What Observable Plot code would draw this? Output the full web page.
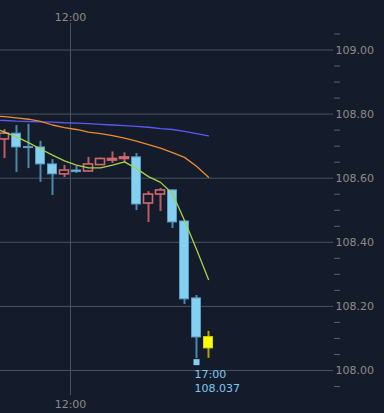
<!DOCTYPE html>
<html><head><meta charset="utf-8">
<script src="https://cdn.jsdelivr.net/npm/d3@7"></script>
<script src="https://cdn.jsdelivr.net/npm/@observablehq/plot@0.6"></script>
<style>
html,body{margin:0;padding:0;background:#141c2c;}
#chart{width:384px;height:413px;overflow:hidden;}
</style></head><body><div id="chart"></div>
<script>
// ---- data (30-minute candles) ----
const times  = ["09:00","09:30","10:00","10:30","11:00","11:30","12:00","12:30","13:00","13:30","14:00","14:30","15:00","15:30","16:00","16:30","17:00","17:30"];
const opens  = [108.721,108.739,108.697,108.696,108.643,108.612,108.624,108.621,108.641,108.655,108.660,108.665,108.521,108.549,108.562,108.465,108.225,108.104];
const highs  = [108.752,108.764,108.768,108.715,108.658,108.640,108.637,108.665,108.663,108.682,108.679,108.677,108.558,108.568,108.563,108.466,108.234,108.122];
const lows   = [108.661,108.618,108.630,108.587,108.546,108.602,108.615,108.619,108.640,108.646,108.647,108.499,108.462,108.496,108.443,108.206,108.037,108.038];
const closes = [108.739,108.696,108.694,108.643,108.612,108.624,108.619,108.643,108.660,108.660,108.665,108.518,108.549,108.562,108.462,108.222,108.103,108.069];

// moving averages (first point is the 08:30 value, off the left edge)
const maTimes = ["08:30"].concat(times);
const maShort = [108.758,108.744,108.729,108.711,108.691,108.672,108.654,108.641,108.632,108.632,108.641,108.651,108.630,108.605,108.587,108.552,108.468,108.378,108.284];
const maMid   = [108.794,108.792,108.788,108.784,108.777,108.766,108.758,108.752,108.744,108.739,108.733,108.725,108.716,108.705,108.694,108.680,108.665,108.637,108.603];
const maLong  = [108.781,108.780,108.778,108.777,108.776,108.775,108.773,108.772,108.770,108.768,108.766,108.764,108.762,108.759,108.755,108.752,108.746,108.739,108.732];

const yTicks = [108.00,108.20,108.40,108.60,108.80,109.00];
const yMinorTicks = [107.95,108.05,108.10,108.15,108.25,108.30,108.35,108.45,108.50,108.55,108.65,108.70,108.75,108.85,108.90,108.95,109.05];
const xTickLabels = ["12:00"];
const lowTime = "17:00";
const lowValue = 108.037;

// ---- helpers ----
const hours = s => { const [h,m] = s.split(":").map(Number); return h + m/60; };
const fmtTime = h => { const hh = Math.floor(h), mm = Math.round((h-hh)*60); return String(hh).padStart(2,"0")+":"+String(mm).padStart(2,"0"); };
const half = 0.25; // candle centre offset (half of 30 minutes)

const candles = times.map((t,i) => ({
  t: hours(t) + half, o: opens[i], h: highs[i], l: lows[i], c: closes[i],
  kind: i === times.length-1 ? "now" : (closes[i] >= opens[i] ? "up" : "down")
}));
const ma = (vals) => maTimes.map((t,i) => ({t: hours(t)+half, v: vals[i]}));

const bodyFill   = {up:"#141c2c", down:"#84d0f0", now:"#ffff00"};
const bodyStroke = {up:"#d2686b", down:"#5b9cc4", now:"#d8d800"};
const wickColor  = {up:"#b85d62", down:"#4a88ad", now:"#a8a800"};
const bw = 0.1875; // body half width in hours

const lowData = [{t: hours(lowTime)+half, v: lowValue, label: lowTime + "\n" + lowValue.toFixed(3)}];

const chart = Plot.plot({
  width: 384, height: 413,
  marginLeft: 0, marginRight: 51, marginTop: 23, marginBottom: 18,
  style: {background:"#141c2c", color:"#8e8a82", fontFamily:"DejaVu Sans", fontSize:"11px", overflow:"hidden"},
  x: {type:"linear", domain:[9 + 1/12, 22 + 23/24], axis:null, label:null},
  y: {domain:[107.922, 109.0827], axis:null, label:null},
  marks: [
    Plot.gridY(yTicks, {stroke:"#4a5261", strokeOpacity:1}),
    Plot.gridX(xTickLabels.map(hours), {stroke:"#4a5261", strokeOpacity:1}),
    Plot.ruleX(candles, {x:"t", y1:"l", y2:"h", stroke: d => wickColor[d.kind], strokeWidth:2}),
    Plot.rect(candles, {x1: d => d.t - bw, x2: d => d.t + bw, y1: d => Math.min(d.o,d.c), y2: d => Math.max(d.o,d.c),
      fill: d => bodyFill[d.kind], stroke: d => bodyStroke[d.kind], strokeWidth: d => d.kind === "up" ? 1.6 : 1}),
    Plot.line(ma(maLong),  {x:"t", y:"v", stroke:"#5a5af0", strokeWidth:1.3, clip:true}),
    Plot.line(ma(maMid),   {x:"t", y:"v", stroke:"#ec8a2e", strokeWidth:1.3, clip:true}),
    Plot.line(ma(maShort), {x:"t", y:"v", stroke:"#a6d24a", strokeWidth:1.3, clip:true}),
    Plot.dot(lowData, {x:"t", y:"v", symbol:"square", r:3.4, dy:3.5, fill:"#84d0f0", stroke:"none"}),
    Plot.text(lowData, {x:"t", y:"v", text:"label", textAnchor:"start", lineAnchor:"top", dx:-2, dy:9.5, lineHeight:1.27, fill:"#7ec8f0", fontSize:11}),
    Plot.axisY(yTicks, {anchor:"right", label:null, tickSize:0, tickPadding:2, tickFormat: d => d.toFixed(2), fill:"#8e8a82"}),
    Plot.axisY(yMinorTicks, {anchor:"right", label:null, tickSize:6, tickFormat: () => "", stroke:"#5c6068"}),
    Plot.axisX(xTickLabels.map(hours), {anchor:"top", label:null, tickSize:0, tickPadding:3, tickFormat: fmtTime, fill:"#8e8a82"}),
    Plot.axisX(xTickLabels.map(hours), {anchor:"bottom", label:null, tickSize:0, tickPadding:5, tickFormat: fmtTime, fill:"#8e8a82"})
  ]
});
document.getElementById("chart").appendChild(chart);
</script>
</body></html>
